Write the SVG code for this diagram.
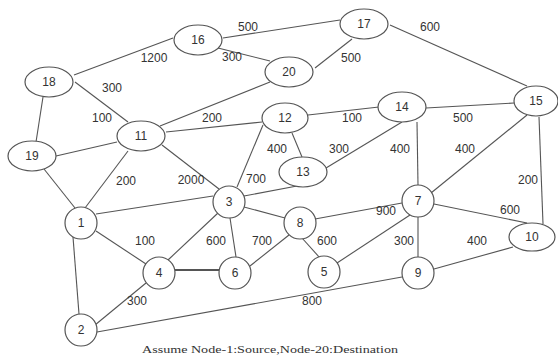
<svg xmlns="http://www.w3.org/2000/svg" width="558" height="358" viewBox="0 0 558 358">
<style>
.e line{stroke:#555;stroke-width:1.1;fill:none}
.n ellipse,.n circle{fill:#fff;stroke:#555;stroke-width:1.2}
.n text,.w{font-family:"Liberation Sans",Arial,sans-serif;font-size:12px;fill:#333;text-anchor:middle}
.cap{font-family:"Liberation Serif","Times New Roman",serif;font-size:11px;fill:#333;text-anchor:middle}
</style>
<rect width="558" height="358" fill="#fff"/>
<g id="connectors" class="e">
<line x1="223" y1="38" x2="340" y2="20"/>
<line x1="218" y1="48" x2="270" y2="61"/>
<line x1="352" y1="39" x2="315" y2="68"/>
<line x1="390" y1="25" x2="527" y2="86"/>
<line x1="173" y1="38" x2="74" y2="75"/>
<line x1="75" y1="82" x2="128" y2="122"/>
<line x1="43" y1="97" x2="36" y2="142"/>
<line x1="56" y1="156" x2="117" y2="142"/>
<line x1="160" y1="126" x2="270" y2="82"/>
<line x1="166" y1="132" x2="262" y2="122"/>
<line x1="128" y1="151" x2="85" y2="208"/>
<line x1="162" y1="145" x2="219" y2="189"/>
<line x1="263" y1="125" x2="237" y2="187"/>
<line x1="292" y1="133" x2="302" y2="157"/>
<line x1="308" y1="115" x2="379" y2="107"/>
<line x1="402" y1="122" x2="326" y2="168"/>
<line x1="426" y1="108" x2="514" y2="103"/>
<line x1="417" y1="122" x2="418" y2="185"/>
<line x1="527" y1="115" x2="431" y2="193"/>
<line x1="539" y1="117" x2="543" y2="224"/>
<line x1="96" y1="214" x2="213" y2="196"/>
<line x1="244" y1="196" x2="297" y2="186"/>
<line x1="44" y1="169" x2="75" y2="208"/>
<line x1="96" y1="231" x2="146" y2="264"/>
<line x1="73" y1="237" x2="79" y2="314"/>
<line x1="218" y1="213" x2="168" y2="260"/>
<line x1="230" y1="218" x2="236" y2="257"/>
<line x1="175" y1="270" x2="219" y2="270" style="stroke-width:2.2"/>
<line x1="250" y1="266" x2="289" y2="235"/>
<line x1="244" y1="207" x2="285" y2="218"/>
<line x1="315" y1="219" x2="402" y2="203"/>
<line x1="302" y1="238" x2="320" y2="258"/>
<line x1="337" y1="263" x2="410" y2="215"/>
<line x1="418" y1="217" x2="418" y2="257"/>
<line x1="434" y1="204" x2="527" y2="223"/>
<line x1="434" y1="269" x2="513" y2="247"/>
<line x1="95" y1="325" x2="146" y2="283"/>
<line x1="97" y1="332" x2="402" y2="277"/>
</g>
<g id="weights">
<text class="w" x="248" y="31">500</text>
<text class="w" x="232" y="61">300</text>
<text class="w" x="351" y="62">500</text>
<text class="w" x="430" y="31">600</text>
<text class="w" x="154" y="62">1200</text>
<text class="w" x="112" y="92">300</text>
<text class="w" x="102" y="122">100</text>
<text class="w" x="212" y="122">200</text>
<text class="w" x="126" y="185">200</text>
<text class="w" x="191" y="184">2000</text>
<text class="w" x="256" y="183">700</text>
<text class="w" x="277" y="153">400</text>
<text class="w" x="352" y="122">100</text>
<text class="w" x="339" y="153">300</text>
<text class="w" x="463" y="122">500</text>
<text class="w" x="400" y="153">400</text>
<text class="w" x="465" y="153">400</text>
<text class="w" x="528" y="184">200</text>
<text class="w" x="145" y="245">100</text>
<text class="w" x="216" y="245">600</text>
<text class="w" x="262" y="245">700</text>
<text class="w" x="327" y="245">600</text>
<text class="w" x="386" y="215">900</text>
<text class="w" x="404" y="245">300</text>
<text class="w" x="510" y="214">600</text>
<text class="w" x="477" y="245">400</text>
<text class="w" x="137" y="305">300</text>
<text class="w" x="312" y="305">800</text>
</g>
<g id="n16" class="n"><ellipse cx="198" cy="40" rx="24" ry="15"/><text x="198" y="44">16</text></g>
<g id="n17" class="n"><ellipse cx="364" cy="24" rx="24" ry="15"/><text x="364" y="28">17</text></g>
<g id="n18" class="n"><ellipse cx="49" cy="82" rx="24" ry="15"/><text x="49" y="86">18</text></g>
<g id="n19" class="n"><ellipse cx="32" cy="156" rx="24" ry="15"/><text x="32" y="160">19</text></g>
<g id="n20" class="n"><ellipse cx="289" cy="72" rx="24" ry="15"/><text x="289" y="76">20</text></g>
<g id="n11" class="n"><ellipse cx="141" cy="136" rx="24" ry="15"/><text x="141" y="140">11</text></g>
<g id="n12" class="n"><ellipse cx="285" cy="118" rx="23" ry="15"/><text x="285" y="122">12</text></g>
<g id="n13" class="n"><ellipse cx="303" cy="172" rx="24" ry="15"/><text x="303" y="176">13</text></g>
<g id="n14" class="n"><ellipse cx="402" cy="107" rx="24" ry="15"/><text x="402" y="111">14</text></g>
<g id="n15" class="n"><ellipse cx="536" cy="101" rx="22" ry="15"/><text x="536" y="105">15</text></g>
<g id="n10" class="n"><ellipse cx="532" cy="237" rx="23" ry="14"/><text x="532" y="241">10</text></g>
<g id="n1" class="n"><circle cx="81" cy="223" r="16"/><text x="81" y="227">1</text></g>
<g id="n2" class="n"><circle cx="81" cy="330" r="16"/><text x="81" y="334">2</text></g>
<g id="n3" class="n"><circle cx="229" cy="202" r="16"/><text x="229" y="206">3</text></g>
<g id="n4" class="n"><circle cx="159" cy="273" r="16"/><text x="159" y="277">4</text></g>
<g id="n5" class="n"><circle cx="324" cy="272" r="16"/><text x="324" y="276">5</text></g>
<g id="n6" class="n"><circle cx="235" cy="273" r="16"/><text x="235" y="277">6</text></g>
<g id="n7" class="n"><circle cx="418" cy="201" r="16"/><text x="418" y="205">7</text></g>
<g id="n8" class="n"><circle cx="300" cy="223" r="16"/><text x="300" y="227">8</text></g>
<g id="n9" class="n"><circle cx="418" cy="273" r="16"/><text x="418" y="277">9</text></g>
<text class="cap" x="270" y="353" textLength="256" lengthAdjust="spacingAndGlyphs">Assume Node-1:Source,Node-20:Destination</text>
</svg>
